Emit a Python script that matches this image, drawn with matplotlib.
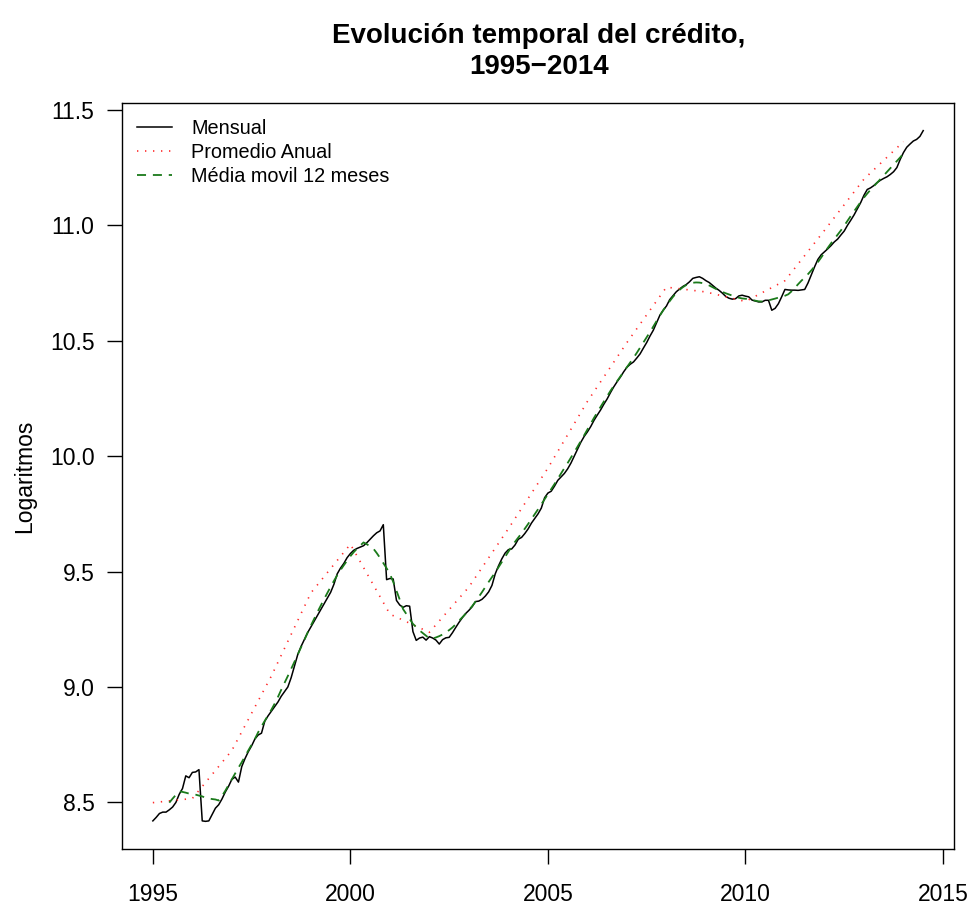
import numpy as np
import pandas as pd
import matplotlib
matplotlib.use("Agg")
from matplotlib import pyplot as plt

plt.rcParams['font.family'] = ['Liberation Sans', 'DejaVu Sans']

# log del credito, mensual, ene-1995 a jul-2014 (una fila por año)
credito_log = [
    8.420, 8.435, 8.452, 8.458, 8.458, 8.468, 8.480, 8.500, 8.535, 8.560, 8.615, 8.607,   # 1995
    8.630, 8.632, 8.642, 8.420, 8.418, 8.420, 8.448, 8.475, 8.490, 8.515, 8.545, 8.570,   # 1996
    8.600, 8.610, 8.588, 8.655, 8.690, 8.720, 8.745, 8.775, 8.792, 8.800, 8.852, 8.875,   # 1997
    8.895, 8.915, 8.935, 8.960, 8.980, 9.000, 9.040, 9.090, 9.140, 9.175, 9.205, 9.235,   # 1998
    9.260, 9.285, 9.310, 9.335, 9.360, 9.385, 9.410, 9.445, 9.490, 9.515, 9.535, 9.560,   # 1999
    9.578, 9.592, 9.600, 9.606, 9.612, 9.625, 9.640, 9.655, 9.668, 9.676, 9.703, 9.465,   # 2000
    9.470, 9.468, 9.375, 9.355, 9.345, 9.352, 9.350, 9.240, 9.202, 9.212, 9.216, 9.203,   # 2001
    9.218, 9.212, 9.203, 9.186, 9.205, 9.213, 9.215, 9.235, 9.258, 9.280, 9.300, 9.318,   # 2002
    9.332, 9.348, 9.370, 9.372, 9.380, 9.394, 9.412, 9.440, 9.490, 9.525, 9.555, 9.580,   # 2003
    9.595, 9.598, 9.615, 9.640, 9.648, 9.665, 9.685, 9.710, 9.730, 9.750, 9.775, 9.820,   # 2004
    9.840, 9.848, 9.870, 9.895, 9.910, 9.925, 9.945, 9.970, 10.000, 10.030, 10.060, 10.085,  # 2005
    10.105, 10.128, 10.155, 10.178, 10.200, 10.225, 10.248, 10.275, 10.300, 10.322, 10.342, 10.365,  # 2006
    10.385, 10.398, 10.408, 10.425, 10.443, 10.468, 10.492, 10.520, 10.545, 10.578, 10.610, 10.632,  # 2007
    10.650, 10.678, 10.695, 10.712, 10.724, 10.735, 10.743, 10.755, 10.770, 10.774, 10.777, 10.770,  # 2008
    10.760, 10.752, 10.740, 10.728, 10.718, 10.706, 10.692, 10.684, 10.680, 10.682, 10.694, 10.697,  # 2009
    10.693, 10.690, 10.676, 10.672, 10.668, 10.668, 10.675, 10.675, 10.632, 10.640, 10.660, 10.690,  # 2010
    10.722, 10.720, 10.719, 10.719, 10.718, 10.720, 10.722, 10.750, 10.785, 10.820, 10.852, 10.872,  # 2011
    10.885, 10.898, 10.912, 10.928, 10.940, 10.958, 10.975, 11.000, 11.022, 11.045, 11.072, 11.098,  # 2012
    11.130, 11.155, 11.162, 11.172, 11.185, 11.195, 11.203, 11.210, 11.220, 11.232, 11.250, 11.285,  # 2013
    11.315, 11.338, 11.352, 11.365, 11.372, 11.385, 11.410,                                          # 2014
]
anio_inicio = 1995

x_ticks = [1995, 2000, 2005, 2010, 2015]
y_ticks = [8.5, 9.0, 9.5, 10.0, 10.5, 11.0, 11.5]

mensual = pd.Series(credito_log)
t = anio_inicio + np.arange(len(mensual)) / 12.0
anio = anio_inicio + np.arange(len(mensual)) // 12

# promedio anual, ubicado al inicio de cada año
prom_anual = mensual.groupby(anio).mean()

# media movil de 12 meses (como filter(sides=2) en R)
movil = mensual.rolling(12).mean().shift(-6)

fig = plt.figure(figsize=(9.74, 9.05), dpi=100)
ax = fig.add_axes([0.1253, 0.0619, 0.8542, 0.8243])

ax.plot(t, mensual, color='black', lw=1.1, label='Mensual')
ax.plot(prom_anual.index, prom_anual.values, color='#ff2a2a', lw=1.2,
        linestyle=(0, (0.8, 4.0)), label='Promedio Anual')
ax.plot(t, movil, color='#1a7a1a', lw=1.3, linestyle=(0, (5, 3.8)),
        label='Média movil 12 meses')

ax.margins(x=0.04, y=0.04)
ax.set_xticks(x_ticks)
ax.set_yticks(y_ticks)
ax.set_yticklabels(['%.1f' % v for v in y_ticks])
ax.tick_params(axis='both', labelsize=16.5, length=10.8, width=1.0, pad=9)
ax.tick_params(axis='x', pad=14)
for s in ax.spines.values():
    s.set_linewidth(1.0)

ax.set_ylabel('Logaritmos', fontsize=16.5, labelpad=10)
fig.text(0.553, 0.943, 'Evolución temporal del crédito,\n1995\u22122014',
         ha='center', va='center', fontsize=20, fontweight='bold',
         linespacing=1.25)

ax.legend(loc='upper left', bbox_to_anchor=(0.0185, 0.978), frameon=False,
          fontsize=14.3, handlelength=1.76, handletextpad=0.95,
          labelspacing=0.25, borderpad=0, borderaxespad=0)

plt.savefig('out.png', dpi=100)
